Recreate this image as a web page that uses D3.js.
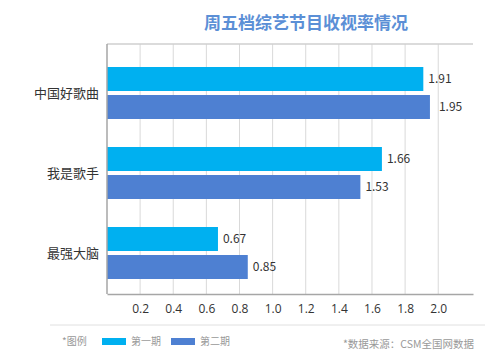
<!DOCTYPE html>
<html>
<head>
<meta charset="utf-8">
<script src="https://cdn.jsdelivr.net/npm/d3@7"></script>
<style>
  body { margin: 0; background: #fff; }
  svg { display: block; font-family: "Noto Sans CJK SC", "Open Sans", sans-serif; }
</style>
</head>
<body>
<div id="chart"></div>
<script>
// data
var shows = ["中国好歌曲", "我是歌手", "最强大脑"];
var period1 = [1.91, 1.66, 0.67];
var period2 = [1.95, 1.53, 0.85];
var seriesNames = ["第一期", "第二期"];
var tickValues = [0.2, 0.4, 0.6, 0.8, 1.0, 1.2, 1.4, 1.6, 1.8, 2.0];
var colors = ["#00b0f0", "#4e80d2"];

var width = 500, height = 354;
var margin = {top: 44, right: 27, bottom: 60, left: 107};

var svg = d3.select("#chart")
  .append("svg")
    .attr("width", width)
    .attr("height", height);

// title
svg.append("text")
  .attr("x", 306)
  .attr("y", 29)
  .attr("text-anchor", "middle")
  .style("font-size", "17px")
  .style("font-weight", "bold")
  .attr("fill", "#5b8fd6")
  .text("周五档综艺节目收视率情况");

var x = d3.scaleLinear()
  .domain([0, 2.21])
  .range([margin.left, width - margin.right]);

var y = d3.scaleBand()
  .domain(shows)
  .range([53, 293]);

var plotBottom = height - margin.bottom;

// grid lines
svg.append("g")
  .selectAll("line")
  .data(tickValues)
  .join("line")
    .attr("x1", d => x(d)).attr("x2", d => x(d))
    .attr("y1", margin.top).attr("y2", plotBottom)
    .attr("stroke", "#d9d9d9")
    .attr("stroke-width", 1);

// top border
svg.append("line")
  .attr("x1", x(0)).attr("x2", x(2.21))
  .attr("y1", margin.top).attr("y2", margin.top)
  .attr("stroke", "#cfcfcf")
  .attr("stroke-width", 1.5);

// bars
var rows = shows.map((s, i) => ({show: s, vals: [period1[i], period2[i]]}));
var barH = 24, gap = 4;

rows.forEach(r => {
  var c = y(r.show) + y.bandwidth() / 2;
  r.vals.forEach((v, k) => {
    var top = k === 0 ? c - gap / 2 - barH : c + gap / 2;
    svg.append("rect")
      .attr("x", x(0))
      .attr("y", top)
      .attr("width", x(v) - x(0))
      .attr("height", barH)
      .attr("fill", colors[k]);
    svg.append("text")
      .attr("x", x(v) + 5 + (k === 1 && v > 1.9 ? 4 : 0))
      .attr("y", top + barH / 2 + 4)
      .style("font-size", "12px")
      .attr("fill", "#333")
      .text(v.toFixed(2));
  });
  svg.append("text")
    .attr("x", x(0) - 8)
    .attr("y", c + 5)
    .attr("text-anchor", "end")
    .style("font-size", "13px")
    .attr("fill", "#333")
    .text(r.show);
});

// axes
var xAxis = svg.append("g")
  .attr("transform", `translate(0,${plotBottom})`)
  .call(d3.axisBottom(x).tickValues(tickValues).tickSize(0).tickPadding(10).tickFormat(d3.format(".1f")));
xAxis.select(".domain").attr("stroke", "#a6a6a6").attr("stroke-width", 1.5);
xAxis.selectAll("text")
  .style("font-size", "12px")
  .style("font-family", "'Open Sans', sans-serif")
  .attr("fill", "#333");

svg.append("line")
  .attr("x1", x(0)).attr("x2", x(0))
  .attr("y1", margin.top).attr("y2", plotBottom)
  .attr("stroke", "#a6a6a6")
  .attr("stroke-width", 1.5);

// separator
svg.append("line")
  .attr("x1", 50).attr("x2", 485)
  .attr("y1", 325).attr("y2", 325)
  .attr("stroke", "#e0e0e0");

// legend
svg.append("text")
  .attr("x", 62).attr("y", 345)
  .style("font-size", "10px")
  .attr("fill", "#999")
  .text("*图例");

var lx = [102, 171];
seriesNames.forEach((n, k) => {
  svg.append("rect")
    .attr("x", lx[k]).attr("y", 338)
    .attr("width", 24).attr("height", 7)
    .attr("fill", colors[k]);
  svg.append("text")
    .attr("x", lx[k] + 29).attr("y", 345)
    .style("font-size", "10px")
    .attr("fill", "#999")
    .text(n);
});

svg.append("text")
  .attr("x", 474).attr("y", 348)
  .attr("text-anchor", "end")
  .style("font-size", "10.5px")
  .attr("fill", "#999")
  .text("*数据来源：CSM全国网数据");
</script>
</body>
</html>
